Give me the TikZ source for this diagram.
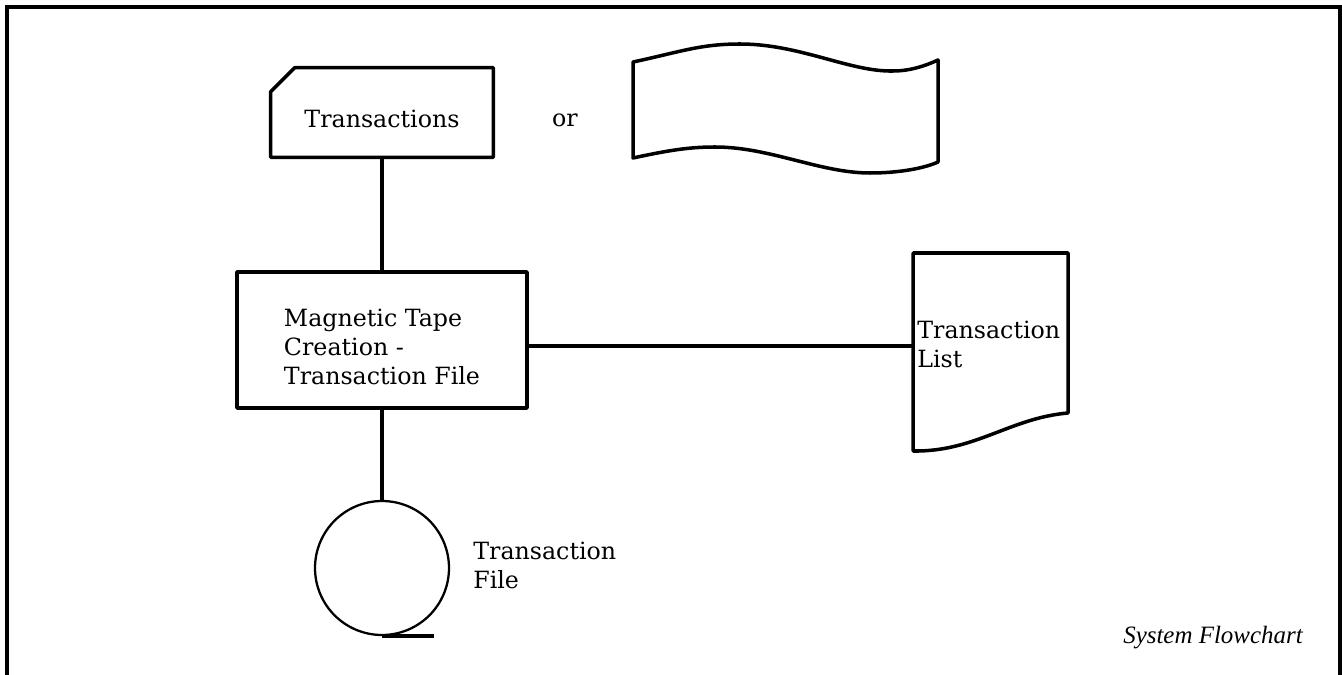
\documentclass[tikz,border=0pt]{standalone}
\usepackage{fontspec}
\setmainfont{DejaVu Serif}
\newfontfamily\capfont{Liberation Serif}
\usepackage{tikz}
\usetikzlibrary{positioning}

\begin{document}
\begin{tikzpicture}[x=0.02cm,y=-0.02cm,
shp/.style={draw=black,line width=2pt,line join=round},
conn/.style={draw=black,line width=2pt},
txt/.style={font=\fontsize{13.5}{16.5}\selectfont,inner sep=0pt,align=left},
mycard/.style={txt,minimum width=4.44cm,minimum height=1.78cm,text height=0.62cm,text depth=0pt},
myproc/.style={txt,shp,minimum width=5.8cm,minimum height=2.72cm,text height=1.79cm,text depth=0pt},
mydisk/.style={circle,draw=black,line width=1.3pt,minimum size=2.68cm,inner sep=0pt}]
\useasboundingbox (0,0) rectangle (1342,675);
% frame
\draw[line width=2pt] (7,675) -- (7,7) -- (1340,7) -- (1340,675);
% input card
\node[mycard] (card) at (382,112.5) {Transactions};
\draw[shp] ([yshift=-0.48cm]card.north west) -- ([xshift=0.48cm]card.north west) -- (card.north east) -- (card.south east) -- (card.south west) -- cycle;
\node[txt] (or) at (565,120) {or};
% paper tape
\draw[shp] (633,62) .. controls (680,52) and (700,44) .. (740,44) .. controls (800,44) and (850,72) .. (893,71) .. controls (910,71) and (925,66) .. (938,60)
  -- (938,162) .. controls (925,168) and (900,173) .. (870,173) .. controls (820,173) and (770,147) .. (715,147) .. controls (690,147) and (670,150) .. (633,158) -- cycle;
% process
\node[myproc] (proc) at (382,340) {Magnetic Tape\\Creation -\\Transaction File};
% document
\draw[shp] (913,253) -- (1068,253) -- (1068,413) .. controls (1010,418) and (975,452) .. (913,451) -- cycle;
\node[txt,anchor=west] (list) at (917,344) {Transaction\\List};
\coordinate (listin) at (913,346);
% tape file
\node[mydisk] (tfile) at (382,568) {};
\draw[line width=2pt] (tfile.south) -- ++(52,0);
\node[txt,anchor=west] (tfilelbl) at (473,565) {Transaction\\File};
% connectors
\draw[conn] (card.south) -- (proc.north);
\draw[conn] (proc.east |- listin) -- (listin);
\draw[conn] (proc.south) -- (tfile.north);
\node[font=\capfont\itshape\fontsize{14.2}{17}\selectfont,inner sep=0pt] (title) at (1213,638) {System Flowchart};
\end{tikzpicture}
\end{document}
